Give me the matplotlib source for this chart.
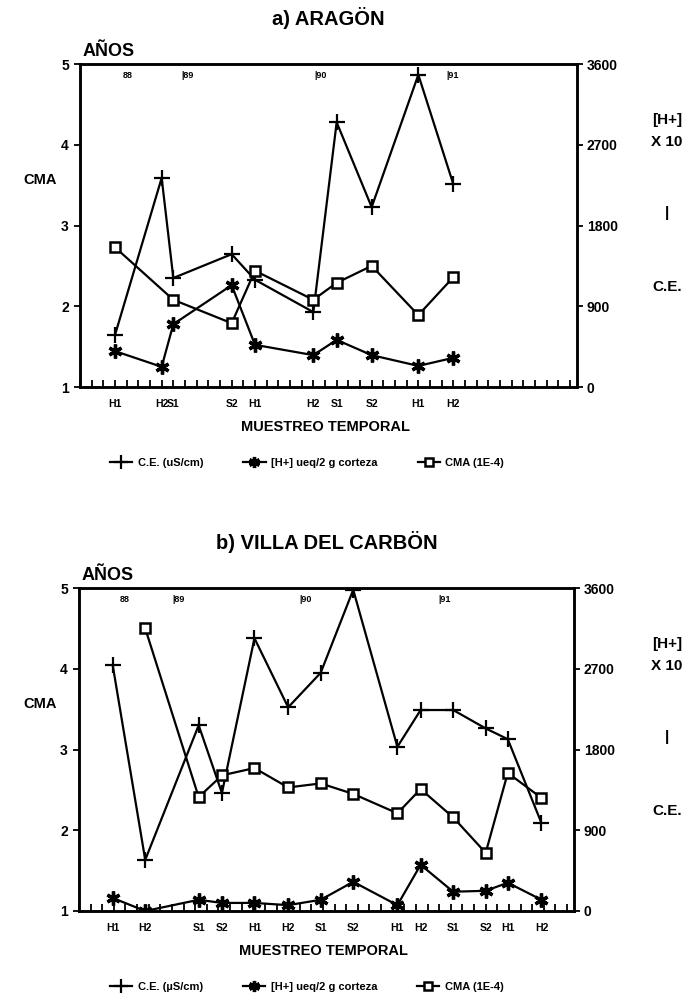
import matplotlib.pyplot as plt

plt.rcParams['font.family'] = ['Liberation Sans', 'DejaVu Sans']
plt.rcParams['font.weight'] = 'bold'

# a) Aragon
ara_x = [3, 7, 8, 13, 15, 20, 22, 25, 29, 32]
ara_lbl = ['H1', 'H2', 'S1', 'S2', 'H1', 'H2', 'S1', 'S2', 'H1', 'H2']
ara_ce = [580, 2330, 1215, 1480, 1195, 835, 2950, 2005, 3480, 2260]
ara_h = [400, 225, 700, 1135, 470, 355, 525, 355, 235, 325]
ara_cma_x = [3, 8, 13, 15, 20, 22, 25, 29, 32]
ara_cma = [2.73, 2.08, 1.79, 2.44, 2.08, 2.29, 2.50, 1.89, 2.36]
ara_years = [(3.7, '88'), (8.7, '|89'), (20.1, '|90'), (31.4, '|91')]

# b) Villa del Carbon
vil_x = [2.9, 5.7, 10.3, 12.3, 15.1, 18.0, 20.8, 23.6, 27.4, 29.4, 32.2, 35.0, 36.9, 39.8]
vil_lbl = ['H1', 'H2', 'S1', 'S2', 'H1', 'H2', 'S1', 'S2', 'H1', 'H2', 'S1', 'S2', 'H1', 'H2']
vil_ce = [2740, 570, 2070, 1315, 3040, 2270, 2655, 3580, 1830, 2240, 2240, 2035, 1915, 980]
vil_h = [145, 0, 125, 90, 90, 65, 125, 325, 65, 515, 215, 225, 315, 125]
vil_cma_x = vil_x[1:]
vil_cma = [4.50, 2.41, 2.68, 2.77, 2.53, 2.58, 2.45, 2.21, 2.51, 2.16, 1.72, 2.71, 2.40]
vil_years = [(3.5, '88'), (8.0, '|89'), (19.0, '|90'), (30.9, '|91')]

W, H = 690, 1006
fig = plt.figure(figsize=(W / 100, H / 100), dpi=100)


def panel(left, top, right, bottom, title, x, lbl, ce, h, cma_x, cma, years, ce_unit):
    ax = fig.add_axes([left / W, 1 - bottom / H, (right - left) / W, (bottom - top) / H])
    ax2 = ax.twinx()
    ax.set_zorder(ax2.get_zorder() + 1)
    ax.patch.set_visible(False)

    l1, = ax2.plot(x, ce, color='black', lw=1.6, marker='+', ms=12, mew=1.6)
    l2, = ax2.plot(x, h, color='black', lw=1.6, marker=(6, 2, 0), ms=10, mew=2.4)
    l3, = ax.plot(cma_x, cma, color='black', lw=1.6, marker='s', ms=6.5, mfc='white', mew=1.8)

    ax.set_xlim(0, 42.6)
    ax.set_ylim(1, 5)
    ax2.set_ylim(0, 3600)
    ax.set_yticks([1, 2, 3, 4, 5])
    ax2.set_yticks([0, 900, 1800, 2700, 3600])
    ax.set_xticks(range(0, 43))
    ax.set_xticklabels([])
    ax.tick_params(axis='x', direction='in', length=5, width=1.3)
    ax.tick_params(axis='y', direction='out', length=4, width=1.3, labelsize=10, pad=4)
    ax2.tick_params(axis='y', direction='out', length=4, width=1.3, labelsize=10, pad=3)
    for a in (ax, ax2):
        for s in a.spines.values():
            s.set_linewidth(1.8)

    # sample labels under the axis
    for xp, t in zip(x, lbl):
        ax.annotate(t, (xp, 0), xycoords=('data', 'axes fraction'), xytext=(0, -12),
                    textcoords='offset points', ha='center', va='center', fontsize=7.5)

    for xp, t in years:
        ax.text(xp, 4.86, t, fontsize=6.5, ha='left', va='center')

    cx = (left + right) / 2 / W
    fig.text(cx - 3 / W, 1 - (bottom + 40) / H, 'MUESTREO TEMPORAL', fontsize=10.5,
             ha='center', va='center')
    fig.text(cx, 1 - (top - 46) / H, title, fontsize=14.5, ha='center', va='center')
    fig.text((left + 3) / W, 1 - (top - 12) / H, 'AÑOS', fontsize=13,
             ha='left', va='center')
    fig.text(40 / W, 1 - (top + 116) / H, 'CMA', fontsize=10.5, ha='center', va='center')
    rx = 667 / W
    fig.text(rx, 1 - (top + 56) / H, '[H+]', fontsize=11, ha='center', va='center')
    fig.text(rx, 1 - (top + 78) / H, 'X 10', fontsize=11, ha='center', va='center')
    fig.text(rx, 1 - (top + 149) / H, '|', fontsize=11, ha='center', va='center')
    fig.text(rx, 1 - (top + 223) / H, 'C.E.', fontsize=11, ha='center', va='center')

    fig.legend([l1, l2, l3],
               [f'C.E. ({ce_unit}/cm)', '[H+] ueq/2 g corteza', 'CMA (1E-4)'],
               loc='center left', ncol=3, frameon=False, fontsize=8,
               handlelength=2.0, columnspacing=3.6, handletextpad=0.5,
               markerscale=0.8, borderaxespad=0, borderpad=0,
               bbox_to_anchor=(110 / W, 1 - (bottom + 76) / H))


panel(80, 64, 577, 387, 'a) ARAGÖN', ara_x, ara_lbl, ara_ce, ara_h,
      ara_cma_x, ara_cma, ara_years, 'uS')
panel(79, 588, 574, 911, 'b) VILLA DEL CARBÖN', vil_x, vil_lbl, vil_ce, vil_h,
      vil_cma_x, vil_cma, vil_years, 'µS')

fig.savefig('out.png', dpi=100)
